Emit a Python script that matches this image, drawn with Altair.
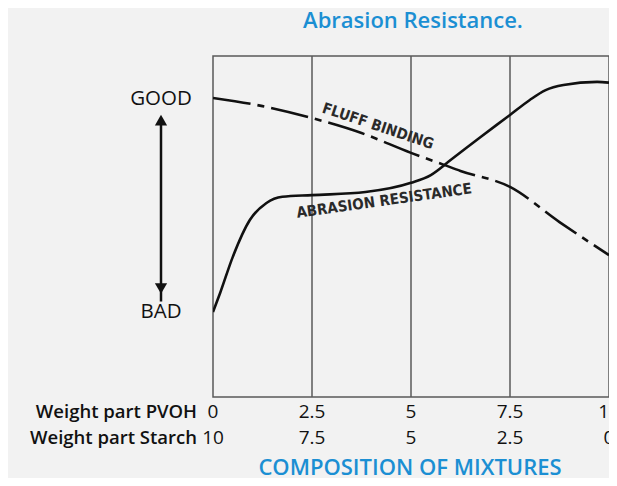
import altair as alt
import pandas as pd

# --- data ---
fluff_x = [0, 1.25, 2.5, 3.75, 5, 5.85, 6.25, 7.5, 8.75, 10]
fluff_y = [87.7, 85.3, 81.8, 77.4, 71.6, 68.0, 66.3, 61.6, 51.3, 41.6]

abr_x = [0, 0.18, 0.5, 0.93, 1.35, 1.75, 2.5, 3.85, 5, 5.5, 6, 6.75, 7.5, 8, 8.4, 8.85, 9.7, 10]
abr_y = [24.9, 30.5, 41.1, 51.9, 56.9, 58.7, 59.2, 60.1, 62.8, 65.1, 69.5, 76.2, 82.7, 87.1, 90.0, 91.5, 92.4, 92.2]

tick_vals = [0, 2.5, 5, 7.5, 10]
pvoh_labels = ["0", "2.5", "5", "7.5", "10"]
starch_labels = ["10", "7.5", "5", "2.5", "0"]
grid_x = [2.5, 5, 7.5]

title_text = "Abrasion Resistance."
xlabel_text = "COMPOSITION OF MIXTURES"
row_labels = ["Weight part PVOH", "Weight part Starch"]

curve_labels = ["FLUFF BINDING", "ABRASION RESISTANCE"]
curve_label_x = [4.17, 4.32]
curve_label_y = [79.5, 57.6]
curve_label_angle = [18.5, 352]

scale_labels = ["GOOD", "BAD"]
scale_label_y = [87.4, 24.9]
arrow_top, arrow_bottom = 81.5, 28.0
arrow_heads = [81.2, 31.8]
arrow_shapes = ["triangle-up", "triangle-down"]

BLUE = "#1b8fd3"
FONT = "Open Sans"

xs = alt.Scale(domain=[0, 10], nice=False, zero=False)
ys = alt.Scale(domain=[0, 100], nice=False, zero=False)

fluff_df = pd.DataFrame({"x": fluff_x, "y": fluff_y})
abr_df = pd.DataFrame({"x": abr_x, "y": abr_y})
grid_df = pd.DataFrame({"x": grid_x})
ticks_df = pd.DataFrame({"x": tick_vals, "p": pvoh_labels, "s": starch_labels})
cl_df = pd.DataFrame({"t": curve_labels, "x": curve_label_x, "y": curve_label_y, "a": curve_label_angle})
sl_df = pd.DataFrame({"t": scale_labels, "y": scale_label_y})
arrow_df = pd.DataFrame({"y": [arrow_top], "y2": [arrow_bottom]})
head_df = pd.DataFrame({"y": arrow_heads, "s": arrow_shapes})

X = lambda f: alt.X(f, type="quantitative", scale=xs, axis=None)
Y = lambda f: alt.Y(f, type="quantitative", scale=ys, axis=None)

grid = alt.Chart(grid_df).mark_rule(color="#5a5a5a", strokeWidth=1.5).encode(x=X("x"))

fluff = alt.Chart(fluff_df).mark_line(
    color="#111", strokeWidth=2.6, interpolate="monotone", strokeDash=[38, 7, 7, 7], clip=True
).encode(x=X("x"), y=Y("y"))

abr = alt.Chart(abr_df).mark_line(
    color="#111", strokeWidth=2.6, interpolate="monotone", clip=True
).encode(x=X("x"), y=Y("y"))

clabels = alt.Chart(cl_df).mark_text(
    font="DejaVu Sans Condensed", fontWeight="bold", fontSize=15, color="#2a2a2a"
).encode(x=X("x"), y=Y("y"), text="t:N", angle=alt.Angle("a:Q", scale=None))

pvoh = alt.Chart(ticks_df).mark_text(font=FONT, fontSize=19, color="#111", baseline="middle").encode(
    x=X("x"), y=alt.value(356), text="p:N")
starch = alt.Chart(ticks_df).mark_text(font=FONT, fontSize=19, color="#111", baseline="middle").encode(
    x=X("x"), y=alt.value(382), text="s:N")

row1 = alt.Chart(pd.DataFrame({"t": [row_labels[0]]})).mark_text(
    font=FONT, fontSize=18.5, fontWeight=600, color="#111", align="right", baseline="middle"
).encode(x=alt.value(-16), y=alt.value(356), text="t:N")
row2 = alt.Chart(pd.DataFrame({"t": [row_labels[1]]})).mark_text(
    font=FONT, fontSize=18.5, fontWeight=600, color="#111", align="right", baseline="middle"
).encode(x=alt.value(-16), y=alt.value(382), text="t:N")

slabels = alt.Chart(sl_df).mark_text(font=FONT, fontSize=20.5, color="#111", baseline="middle").encode(
    x=alt.value(-52), y=Y("y"), text="t:N")

arrow = alt.Chart(arrow_df).mark_rule(color="#111", strokeWidth=2.5).encode(
    x=alt.value(-52), y=Y("y"), y2="y2")
heads = alt.Chart(head_df).mark_point(filled=True, color="#111", size=150, opacity=1).encode(
    x=alt.value(-52), y=Y("y"), shape=alt.Shape("s:N", scale=None))

title_df = pd.DataFrame({"t": [title_text]})
title = alt.Chart(title_df).mark_text(font=FONT, fontSize=22, fontWeight=600, color=BLUE).encode(
    x=alt.value(200), y=alt.value(-35), text="t:N")
xl_df = pd.DataFrame({"t": [xlabel_text]})
xlabel = alt.Chart(xl_df).mark_text(font=FONT, fontSize=22, fontWeight=600, color=BLUE).encode(
    x=alt.value(197), y=alt.value(412), text="t:N")

chart = alt.layer(
    grid, fluff, abr, clabels, pvoh, starch, row1, row2, slabels, arrow, heads, title, xlabel
).properties(
    width=396, height=341,
    autosize=alt.AutoSizeParams(type="none"),
    padding={"left": 205, "top": 48, "right": 0, "bottom": 81},
    background="#f2f2f2",
).configure_view(stroke="#5a5a5a", strokeWidth=1.5)

chart.save("out.html", embed_options={"renderer": "svg", "actions": False})
